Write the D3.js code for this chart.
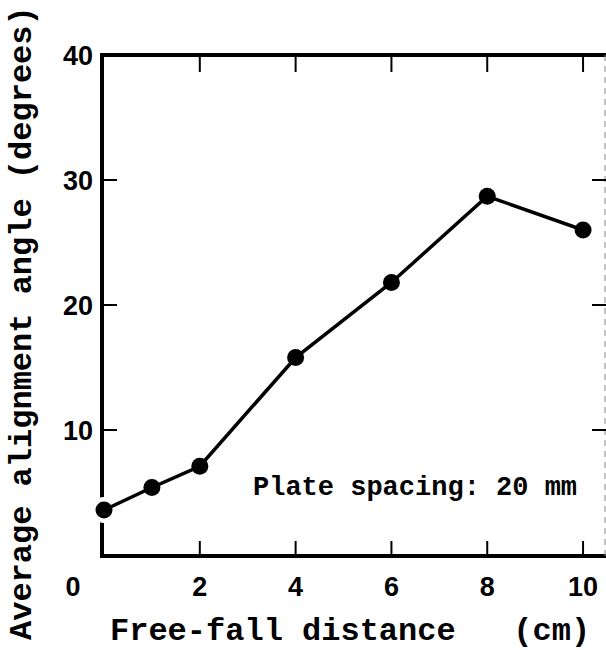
<!DOCTYPE html>
<html>
<head>
<meta charset="utf-8">
<script src="https://cdn.jsdelivr.net/npm/d3@7"></script>
<style>
  body { margin: 0; background: #fff; }
  svg { display: block; }
  .tick-label { font-family: "Liberation Sans", Arial, sans-serif; font-weight: bold; font-size: 27px; fill: #000; }
  .mono { font-family: "Liberation Mono", "Courier New", monospace; font-weight: bold; fill: #000; white-space: pre; }
</style>
</head>
<body>
<svg id="chart"></svg>
<script>
// Chart data
const distance = [0, 1, 2, 4, 6, 8, 10];          // free-fall distance (cm)
const angle = [3.6, 5.4, 7.1, 15.8, 21.8, 28.7, 26.0]; // average alignment angle (deg)
const xTicks = [0, 2, 4, 6, 8, 10];
const yTicks = [10, 20, 30, 40];

const width = 606;
const height = 650;

const svg = d3.select("#chart")
    .attr("width", width)
    .attr("height", height);

const x = d3.scaleLinear().domain([0, 10.5]).range([104, 607]);
const y = d3.scaleLinear().domain([0, 40]).range([555, 55]);

const frameLeft = 102, frameTop = 55, frameBottom = 556, frameRight = 605;

// Frame
svg.append("path")
    .attr("d", `M${frameLeft},${frameTop} V${frameBottom} H${width + 5}`)
    .attr("fill", "none").attr("stroke", "#000").attr("stroke-width", 4);
svg.append("line")
    .attr("x1", frameLeft - 2).attr("x2", width + 5)
    .attr("y1", frameTop).attr("y2", frameTop)
    .attr("stroke", "#000").attr("stroke-width", 4);
svg.append("line")
    .attr("x1", frameRight).attr("x2", frameRight)
    .attr("y1", frameTop).attr("y2", frameBottom)
    .attr("stroke", "#888").attr("stroke-width", 1).attr("stroke-dasharray", "6,5");

// Ticks (all pointing inward)
const xt = xTicks.filter(d => d > 0);
svg.append("g").selectAll("line").data(xt).join("line")
    .attr("x1", d => x(d)).attr("x2", d => x(d))
    .attr("y1", frameBottom).attr("y2", frameBottom - 15)
    .attr("stroke", "#000").attr("stroke-width", 2);
svg.append("g").selectAll("line").data(xt).join("line")
    .attr("x1", d => x(d)).attr("x2", d => x(d))
    .attr("y1", frameTop).attr("y2", frameTop + 17)
    .attr("stroke", "#000").attr("stroke-width", 2);
const yt = yTicks.filter(d => d < 40);
svg.append("g").selectAll("line").data(yt).join("line")
    .attr("x1", frameLeft).attr("x2", frameLeft + 15)
    .attr("y1", d => y(d)).attr("y2", d => y(d))
    .attr("stroke", "#000").attr("stroke-width", 2);
svg.append("g").selectAll("line").data(yt).join("line")
    .attr("x1", frameRight - 13).attr("x2", width)
    .attr("y1", d => y(d)).attr("y2", d => y(d))
    .attr("stroke", "#000").attr("stroke-width", 2);

// Tick labels
svg.append("g").selectAll("text").data(yTicks).join("text")
    .attr("class", "tick-label")
    .attr("x", 93).attr("y", d => y(d))
    .attr("dy", "0.36em")
    .attr("text-anchor", "end")
    .text(d => d);
svg.append("g").selectAll("text").data(xTicks).join("text")
    .attr("class", "tick-label")
    .attr("x", d => d === 0 ? x(d) - 31 : x(d))
    .attr("y", 596)
    .attr("text-anchor", "middle")
    .text(d => d);

// Data line with white halos so the markers cut the frame
const pts = distance.map((d, i) => [d, angle[i]]);
svg.append("g").selectAll("circle").data(pts).join("circle")
    .attr("cx", d => x(d[0])).attr("cy", d => y(d[1]))
    .attr("r", 13).attr("fill", "#fff");
svg.append("path")
    .datum(pts)
    .attr("d", d3.line().x(d => x(d[0])).y(d => y(d[1])))
    .attr("fill", "none").attr("stroke", "#000").attr("stroke-width", 3.5);
svg.append("g").selectAll("circle").data(pts).join("circle")
    .attr("cx", d => x(d[0])).attr("cy", d => y(d[1]))
    .attr("r", 8.5).attr("fill", "#000");

// Annotation
svg.append("text")
    .attr("class", "mono")
    .attr("x", 253).attr("y", 495)
    .attr("font-size", 27)
    .text("Plate spacing: 20 mm");

// Axis titles
svg.append("text")
    .attr("class", "mono")
    .attr("x", 110).attr("y", 640)
    .attr("font-size", 32)
    .text("Free-fall distance   (cm)");
svg.append("text")
    .attr("class", "mono")
    .attr("transform", "translate(31,640) rotate(-90)")
    .attr("font-size", 32)
    .text("Average alignment angle (degrees)");
</script>
</body>
</html>
